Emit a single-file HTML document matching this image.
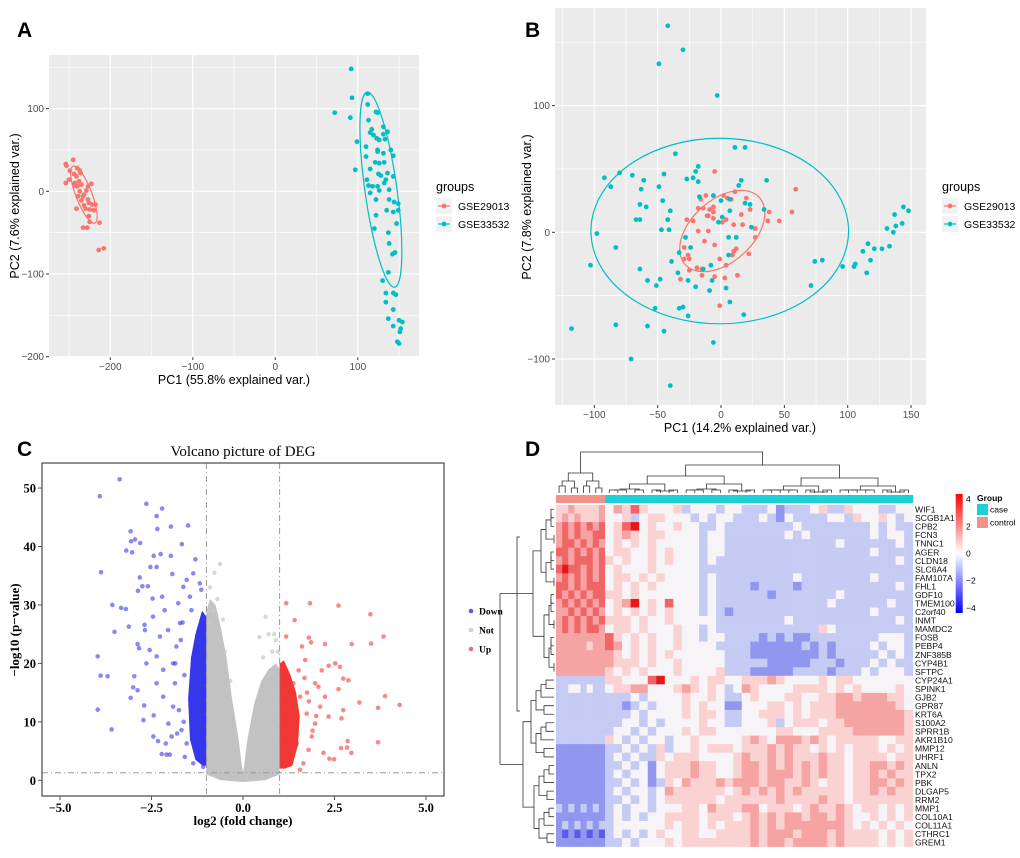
<!DOCTYPE html>
<html><head><meta charset="utf-8"><style>
html,body{margin:0;padding:0;background:#fff}
svg{display:block}
text{font-family:"Liberation Sans",sans-serif}
text.serif{font-family:"Liberation Serif",serif;font-weight:bold}
text.serifn{font-family:"Liberation Serif",serif;font-weight:normal}
</style></head><body>
<svg id="fig" xmlns="http://www.w3.org/2000/svg" width="1020" height="858" viewBox="0 0 1020 858">
<rect width="1020" height="858" fill="#fff"/>
<text x="17" y="37" font-size="21" font-weight="bold">A</text>
<text x="525" y="37" font-size="21" font-weight="bold">B</text>
<text x="17" y="456" font-size="21" font-weight="bold">C</text>
<text x="525" y="456" font-size="21" font-weight="bold">D</text>
<g id="gA"></g>
<g id="gB"></g>
<g id="gC"></g>
<g id="gD"></g>
</svg>
<script>
// ---------- Panel A data ----------
const aRedX=[-254,-253,-245,-249,-254,-250,-244,-240,-237,-241,-243,-238,-235,-240,-237,-223,-229,-232,-227,-235,-232,-226,-222,-218,-220,-225,-241,-230,-226,-225,-213,-233,-228,-214,-208,-236,-239,-233,-243,-227];
const aRedY=[33,31,38,25,10,14,21,28,25,18,10,12,8,6,0,9,1,-4,-10,-11,-17,-14,-16,-16,-23,-22,-21,-21,-30,-37,-38,-44,-44,-71,-69,22,-6,-6,7,6];
const aTealX=[92,93,72,91,112,112,122,124,113,115,117,119,126,131,131,133,99,110,123,136,110,124,131,140,143,97,115,121,126,132,125,128,136,143,111,113,118,132,126,138,122,138,144,149,149,135,143,122,120,147,137,138,142,145,137,130,134,143,146,134,143,137,150,154,152,143,151,148,150,124,124,134,115];
const aTealY=[148,113,95,89,118,105,96,95,86,71,75,68,62,78,69,63,60,54,64,72,42,48,46,50,43,26,27,35,34,35,21,19,22,18,14,7,6,10,1,2,-10,-10,-13,-15,-23,-23,-25,-29,-45,-39,-50,-63,-76,-74,-98,-108,-123,-123,-125,-134,-143,-154,-156,-158,-166,-163,-170,-182,-184,50,6,14,-2];
const aXTicks=[-200,-100,0,100];
const aYTicks=[100,0,-100,-200];
// ---------- Panel B data ----------
const bTealX=[-42,-30,-49,-3,11,19,-36,-92,-87,-80,-70,-61,-49,-45,-18,-20,-22,-27,-18,-63,-64,-59,-46,-40,-42,-41,-47,-67,-64,-98,-103,-83,-64,-58,-51,-48,-52,-33,-30,-26,-83,-58,-45,-118,-71,-40,-6,18,7,4,-9,-7,-20,-26,-34,-39,-33,-24,-28,-8,-14,6,6,12,24,14,16,36,34,23,19,7,1,-2,0,-6,-17,7,71,74,80,96,105,106,112,116,121,118,115,127,133,131,136,138,143,137,144,148];
const bTealY=[163,144,133,108,67,67,62,43,36,47,45,41,36,46,52,48,43,42,40,34,22,20,25,17,10,2,2,10,10,-1,-26,-12,-29,-38,-42,-37,-60,-60,-59,-66,-73,-74,-78,-76,-100,-121,-87,-65,-55,-44,-46,-38,-43,-38,-32,-23,-16,-12,-4,-26,-29,-18,-4,-4,4,37,41,41,18,22,23,17,12,8,25,29,28,26,-42,-23,-22,-27,-27,-25,-15,-9,-13,-22,-32,-13,-11,3,0,5,7,14,20,17];
const bRedX=[-5,59,11,20,2,5,8,-12,-16,-14,-18,-9,-6,-6,23,38,56,46,37,27,17,10,4,1,-6,-10,-11,-22,-27,-18,-10,16,27,-13,-5,-29,-29,-26,-25,-1,9,10,12,22,4,-19,-15,-25,-15,-5,3,13,-32,-1];
const bRedY=[48,34,32,27,29,27,26,29,26,19,19,18,16,20,18,16,16,9,9,3,6,6,10,8,11,13,13,9,10,1,1,14,-4,-7,-10,-12,-21,-18,-21,-21,-18,-15,-13,-17,-26,-28,-29,-30,-34,-35,-36,-34,-37,-58];
const bXTicks=[-100,-50,0,50,100,150];
const bYTicks=[100,0,-100];
// ---------- Panel C data ----------
const downX=[-3.37,-3.91,-2.64,-2.21,-2.36,-2.34,-1.97,-1.5,-3.07,-2.95,-3.06,-2.81,-1.67,-3.19,-3.03,-2.44,-2.25,-1.97,-1.3,-3.88,-2.53,-2.36,-1.93,-2.82,-2.87,-2.75,-2.6,-2.47,-2.21,-3.57,-3.33,-3.2,-3.12,-3.51,-2.69,-2.68,-2.88,-2.84,-3.97,-3.89,-3.7,-2.97,-3,-3.07,-2.88,-3.97,-3.59,-2.7,-2.72,-2.44,-2.45,-2.32,-2.22,-2.09,-2,-2.64,-2.55,-2.36,-2.27,-2.46,-2.14,-2.05,-2.18,-2.36,-2.18,-2.04,-1.91,-1.86,-1.91,-1.82,-1.72,-1.77,-1.63,-1.54,-1.45,-1.68,-1.54,-1.59,-1.36,-1.27,-1.09,-1.18,-1.36,-1.14,-1.41,-1.95,-2.11,-1.6,-1.75,-1.7,-1.65,-1.8,-1.62,-1.85];
const downY=[51.5,48.6,47.3,46.5,45.2,43,43.4,43.6,42.6,41.2,40.9,40.6,40.4,39.3,39,38.4,38.7,38.4,37.8,35.6,36.5,36.5,35.3,34.7,32.4,33.2,33.2,31.1,31.4,30,29.5,29.3,26.3,25.4,26.6,25.7,23.3,22.6,21.2,17.9,17.8,17.8,15.9,14.1,15.4,12.1,8.7,12.8,10.3,11.1,7.5,6.7,4.5,4.4,4.4,20,22.3,21.2,24.6,28,29.1,25.7,18.9,16.6,14.3,9.7,12.6,16.6,20,22.9,26.9,30.3,33.1,34.3,31.4,8.6,6.3,4,2.9,4.6,2.3,33.7,35.4,32.6,29.1,7.5,6.3,18,12,24,27,8,10,20];
const upX=[1.18,1.83,2.61,3.48,1.41,1.18,1.8,1.86,2.24,2.97,3.5,3.84,3.88,4.28,3.18,3.69,3.69,2.86,2.96,2.84,2.68,2.49,2.36,2.2,2.34,2.52,2.65,2.74,2.88,2.61,2.74,2.69,2.24,2.06,2.15,1.97,1.88,1.79,1.65,1.56,1.61,1.7,1.52,1.38,2.11,2.34,1.97,1.56,1.29,1.47,1.74,1.8,1.9,2.0,1.68,1.75];
const upY=[30.3,30.3,29.9,28.4,27.4,24.6,24.4,23.6,23.3,23.3,23.4,24.6,14.4,12.9,13.3,12.4,6.5,6.7,4.7,5.6,5.5,3.6,3.7,4.7,19.6,20,19.4,17.4,17.1,15.6,12,10.6,14.3,16,18.8,9.7,7.5,5.2,2.9,1.8,22.9,20.6,18.8,16.6,12.6,10.9,16.6,14.3,9.7,6.3,11.4,13.5,8.5,11,17.5,15];
const notX=[-0.63,-0.78,-0.9,-0.7,-0.55,-0.8,0.62,0.45,0.7,0.8,0.55,0.85,-0.5,-0.35,-0.95,-0.9,0.9,0.95];
const notY=[37,35.5,33,31,27.5,29,28,24.5,25,22,21,25,22,17,29,27,24,22];
const notEnvX=[-1,-0.9,-0.75,-0.6,-0.45,-0.3,-0.12,-0.03,0,0.03,0.12,0.3,0.5,0.7,0.9,1,1,0.6,0,-0.6,-1];
const notEnvY=[29,31,30,26,21,14,7,2.5,1.5,2.5,7,13,17,19,20,19,1,0,-0.3,0,1];
const downEnvX=[-1,-1,-1.12,-1.3,-1.42,-1.5,-1.45,-1.3,-1.1];
const downEnvY=[2.5,28,29,25,21,14,7,3.5,2.5];
const upEnvX=[1,1,1.12,1.3,1.45,1.55,1.5,1.35,1.15];
const upEnvY=[2,20,20.5,18,15,11,6,2.5,2];
const cXTicks=[-5,-2.5,0,2.5,5];
const cXLabels=["\u22125.0","\u22122.5","0.0","2.5","5.0"];
const cYTicks=[0,10,20,30,40,50];
// ---------- Panel D data ----------
const genes=["WIF1","SCGB1A1","CPB2","FCN3","TNNC1","AGER","CLDN18","SLC6A4","FAM107A","FHL1","GDF10","TMEM100","C2orf40","INMT","MAMDC2","FOSB","PEBP4","ZNF385B","CYP4B1","SFTPC","CYP24A1","SPINK1","GJB2","GPR87","KRT6A","S100A2","SPRR1B","AKR1B10","MMP12","UHRF1","ANLN","TPX2","PBK","DLGAP5","RRM2","MMP1","COL10A1","COL11A1","CTHRC1","GREM1"];
const heatRows=[
"55655556465754445344434433342333453354443344",
"56565556445345544434344333432433334435445434",
"67676767457845445443343333333343333333343433",
"67676677456545544443443333333434333333343443",
"67767676454545444443443333333333333433333343",
"77676767455445454443443333333333333333343333",
"67677767545445454443433333333333333333333343",
"78776767454445444443333333333333333333333333",
"67676767455454544443433333333343333333343333",
"77676777454545444443433332333323333333333343",
"76767677554544444443433333323333333433333333",
"67676767456845474443433333333333334333333433",
"66767676454545454443432333333333333333343333",
"67676767555454454444433333333433333333333343",
"67676776455454445443433333333333354333333333",
"66666666754545445443443333232322333333334443",
"66666566764545445444433332222223232333343443",
"66666666654545454444443332222222232333334343",
"66666666655545445444443333322222333233343433",
"66666666545454445444453332222233332333434443",
"33333333554447844454554455565444454554444444",
"33443433455664445654543465444455554545444454",
"33333333333434444544543345444554455665666554",
"33333333332343444545442244455454555666666654",
"33333333333434444545543344555454555666666665",
"33333333334434344445443344453455545566666665",
"33333333344343444545544444445544455556666665",
"33333333543434434454444456546665654555554455",
"22222222334343534454555455565655454545554545",
"22222222343433545554444565565655565545555455",
"22222222334342455565544566565656565545566565",
"22222222343442455565544566566656565545565655",
"22222222334342354655565666566556545545566565",
"22222222343443465555554565656565555545565655",
"22222222334343455555545555556555565545555555",
"32323232343443444554655566455545655654554545",
"22222222343434455554555456565665665654454545",
"23232323344444454554545556565666666654545454",
"21212121343434544554455556566656665655554545",
"22222222334344454555555556566566665655554545"];
const nControl=8;
const scaleTicks=[4,2,0,-2,-4];

const NS="http://www.w3.org/2000/svg";
function mk(tag,attrs,parent,txt){const e=document.createElementNS(NS,tag);for(const k in attrs)e.setAttribute(k,attrs[k]);if(txt!==undefined)e.textContent=txt;parent.appendChild(e);return e;}

function pcaPanel(g,cfg){
  const X=cfg.sx,Y=cfg.sy;
  const bg=mk('rect',{x:cfg.l,y:cfg.t,width:cfg.r-cfg.l,height:cfg.b-cfg.t,fill:'#ebebeb'},g);
  
  
  cfg.minX.forEach(v=>{const l=mk('line',{x1:X(v),x2:X(v),y1:cfg.t,y2:cfg.b,stroke:'#fff','stroke-width':0.6},g);
    
    });
  cfg.minY.forEach(v=>{const l=mk('line',{x1:cfg.l,x2:cfg.r,y1:Y(v),y2:Y(v),stroke:'#fff','stroke-width':0.6},g);
    
    });
  cfg.xt.forEach(v=>{const l=mk('line',{x1:X(v),x2:X(v),y1:cfg.t,y2:cfg.b,stroke:'#fff','stroke-width':1.2},g);
    
    
    const tk=mk('line',{x1:X(v),x2:X(v),y1:cfg.b,y2:cfg.b+3,stroke:'#333','stroke-width':1},g);
    
    
    const t=mk('text',{x:X(v),y:cfg.b+13,'font-size':10,fill:'#4d4d4d','text-anchor':'middle'},g,v<0?'\u2212'+(-v):String(v));
    
    });
  cfg.yt.forEach(v=>{const l=mk('line',{x1:cfg.l,x2:cfg.r,y1:Y(v),y2:Y(v),stroke:'#fff','stroke-width':1.2},g);
    
    
    const tk=mk('line',{x1:cfg.l-3,x2:cfg.l,y1:Y(v),y2:Y(v),stroke:'#333','stroke-width':1},g);
    
    
    const t=mk('text',{x:cfg.l-5,y:Y(v)+3.5,'font-size':10,fill:'#4d4d4d','text-anchor':'end'},g,v<0?'\u2212'+(-v):String(v));
    
    });
  cfg.ell.forEach(e=>{const el=mk('ellipse',{cx:X(e.cx),cy:Y(e.cy),rx:e.rx,ry:e.ry,fill:'none',stroke:e.c,'stroke-width':1.2,transform:`rotate(${e.rot} ${X(e.cx)} ${Y(e.cy)})`},g);
    
    });
  cfg.series.forEach(s=>{s.x.forEach((v,i)=>{const c=mk('circle',{cx:X(v),cy:Y(s.y[i]),r:2.4,fill:s.c},g);
    
    });});
  const xt=mk('text',{x:cfg.xtx,y:cfg.b+27,'font-size':12.5,'text-anchor':'middle',fill:'#000'},g,cfg.xtitle);
  
  
  const yt=mk('text',{x:0,y:0,'font-size':12.5,'text-anchor':'middle',fill:'#000',transform:`translate(${cfg.ytx},${cfg.yty}) rotate(-90)`},g,cfg.ytitle);
  
  
  const lg=mk('g',{},g);
  
  
  const lt=mk('text',{x:cfg.lx,y:191,'font-size':12.5},lg,'groups');
  
  
  cfg.series.forEach((s,i)=>{const yy=206+i*18;
    const k=mk('rect',{x:cfg.lx,y:yy-8,width:16,height:16,fill:'#f2f2f2'},lg);
    
    
    const kl=mk('line',{x1:cfg.lx+2,x2:cfg.lx+14,y1:yy,y2:yy,stroke:s.c,'stroke-width':1.2},lg);
    
    
    const kc=mk('circle',{cx:cfg.lx+8,cy:yy,r:2.4,fill:s.c},lg);
    
    
    const tx=mk('text',{x:cfg.lx+22,y:yy+4,'font-size':10.5},lg,s.n);
    
    });
}
const RED='#F8766D',TEAL='#00BFC4';
pcaPanel(document.getElementById('gA'),{
  l:49,r:419,t:55,b:357,sx:x=>275.3+0.825*x,sy:y=>191.3-0.827*y,
  xt:aXTicks,yt:aYTicks,minX:[-250,-150,-50,50,150],minY:[150,50,-50,-150],
  ell:[{cx:-232,cy:-4,rx:8,ry:30.5,rot:-21,c:RED},{cx:128,cy:2,rx:16,ry:98.5,rot:-8,c:TEAL}],
  series:[{n:'GSE29013',x:aRedX,y:aRedY,c:RED},{n:'GSE33532',x:aTealX,y:aTealY,c:TEAL}],
  xtitle:'PC1 (55.8% explained var.)',xtx:234,ytitle:'PC2 (7.6% explained var.)',ytx:19,yty:206,lx:436});
pcaPanel(document.getElementById('gB'),{
  l:555,r:926,t:8,b:405,sx:x=>721+1.267*x,sy:y=>232.3-1.267*y,
  xt:bXTicks,yt:bYTicks,minX:[-125,-75,-25,25,75,125],minY:[150,50,-50],
  ell:[{cx:-1,cy:1,rx:128.8,ry:92.8,rot:0,c:TEAL},{cx:1,cy:1,rx:50,ry:31,rot:-42,c:RED}],
  series:[{n:'GSE29013',x:bRedX,y:bRedY,c:RED},{n:'GSE33532',x:bTealX,y:bTealY,c:TEAL}],
  xtitle:'PC1 (14.2% explained var.)',xtx:740,ytitle:'PC2 (7.8% explained var.)',ytx:531,yty:207,lx:942});

// ================= Panel C volcano =================
(function(){
  const g=document.getElementById('gC');
  const X=x=>243+36.6*x, Y=y=>780.3-5.845*y;
  const L=42,R=444,T=463,B=796;
  const title=mk('text',{x:243,y:456,'font-size':15,'text-anchor':'middle',class:'serifn'},g,'Volcano picture of DEG');
  
  
  function poly(xs,ys,fill,name,op){const p=mk('polygon',{points:xs.map((v,i)=>X(v)+','+Y(ys[i])).join(' '),fill:fill,'fill-opacity':op},g);
    
    }
  poly(notEnvX,notEnvY,'#c2c2c2','not-significant-density',1);
  notX.forEach((v,i)=>{const c=mk('circle',{cx:X(v),cy:Y(notY[i]),r:2.2,fill:'#c8c8c8','fill-opacity':0.7},g);
    
    });
  poly(downEnvX,downEnvY,'#2020e8','down-density',0.9);
  poly(upEnvX,upEnvY,'#f02020','up-density',0.9);
  downX.forEach((v,i)=>{const c=mk('circle',{cx:X(v),cy:Y(downY[i]),r:2.3,fill:'#3a3af0','fill-opacity':0.6},g);
    
    });
  upX.forEach((v,i)=>{const c=mk('circle',{cx:X(v),cy:Y(upY[i]),r:2.3,fill:'#f03a3a','fill-opacity':0.6},g);
    
    });
  [-1,1].forEach(v=>{const l=mk('line',{x1:X(v),x2:X(v),y1:T,y2:B,stroke:'#999','stroke-width':1,'stroke-dasharray':'6,3,1,3'},g);
    
    });
  const h=mk('line',{x1:L,x2:R,y1:Y(1.3),y2:Y(1.3),stroke:'#999','stroke-width':1,'stroke-dasharray':'6,3,1,3'},g);
  
  
  const box=mk('rect',{x:L,y:T,width:R-L,height:B-T,fill:'none',stroke:'#555','stroke-width':1.3},g);
  
  
  cXTicks.forEach((v,i)=>{const tk=mk('line',{x1:X(v),x2:X(v),y1:B,y2:B+4,stroke:'#555'},g);
    
    
    const t=mk('text',{x:X(v),y:B+16,'font-size':12.5,'text-anchor':'middle',class:'serif'},g,cXLabels[i]);
    
    });
  cYTicks.forEach(v=>{const tk=mk('line',{x1:L-4,x2:L,y1:Y(v),y2:Y(v),stroke:'#555'},g);
    
    
    const t=mk('text',{x:L-6,y:Y(v)+4.5,'font-size':12.5,'text-anchor':'end',class:'serif'},g,String(v));
    
    });
  const xt=mk('text',{x:243,y:825,'font-size':13,'text-anchor':'middle',class:'serif'},g,'log2 (fold change)');
  
  
  const yt=mk('text',{x:0,y:0,'font-size':13,'text-anchor':'middle',class:'serif',transform:'translate(19,630) rotate(-90)'},g,'\u2212log10 (p\u2212value)');
  
  
  const leg=[['Down','#5a5af0',611],['Not','#d0d0d0',630],['Up','#f07070',649]];
  leg.forEach(e=>{const c=mk('circle',{cx:471,cy:e[2],r:2.3,fill:e[1]},g);
    
    
    const t=mk('text',{x:479,y:e[2]+3.5,'font-size':9.5,class:'serif'},g,e[0]);
    
    });
  const br=mk('path',{d:'M520,537 L517,537 L517,711 L520,711',fill:'none',stroke:'#555','stroke-width':1},g);
  
  
})();

// ================= Panel D heatmap =================
(function(){
  const g=document.getElementById('gD');
  const x0=556,xc=605,x1=912.7,y0=505,rowH=8.54;
  const nCol=heatRows[0].length,nCase=nCol-nControl;
  const colX=j=>j<nControl?x0+j*(xc-x0)/nControl:xc+(j-nControl)*(x1-xc)/nCase;
  const colW=j=>j<nControl?(xc-x0)/nControl:(x1-xc)/nCase;
  const palette=['#1818e0','#5a5ce8','#9197ee','#c6cbf4','#f7f4f8','#fad2d2','#f5a3a3','#f06666','#e81818'];
  heatRows.forEach((row,i)=>{for(let j=0;j<nCol;j++){
    const c=mk('rect',{x:colX(j).toFixed(2),y:(y0+i*rowH).toFixed(2),width:(colW(j)+0.3).toFixed(2),height:(rowH+0.3).toFixed(2),fill:palette[+row[j]]},g);
    
    }
    const t=mk('text',{x:915,y:y0+i*rowH+rowH/2+3.3,'font-size':8.6,fill:'#111'},g,genes[i]);
    
    });
  for(let j=0;j<nCol;j++){const a=mk('rect',{x:colX(j),y:495,width:colW(j)+0.3,height:8,fill:j<nControl?'#F4928A':'#1CD1D6'},g);
    
    }
  const dc=mk('g',{fill:'none',stroke:'#333','stroke-width':0.8},g);
  
  
  function colTree(lo,hi,top,depth){
    if(lo===hi)return [colX(lo)+colW(lo)/2,493];
    const mid=Math.floor((lo+hi)/2);
    const childTop=Math.min(490,top+(depth<2?11:depth<3?8:5));
    const a=colTree(lo,mid,childTop,depth+1),b=colTree(mid+1,hi,childTop+(depth%2?2:0),depth+1);
    mk('path',{d:`M${a[0]},${a[1]} V${top} H${b[0]} V${b[1]}`},dc);
    return [(a[0]+b[0])/2,top];}
  const cL=colTree(0,nControl-1,473,2),cR=colTree(nControl,nCol-1,465,1);
  mk('path',{d:`M${cL[0]},${cL[1]} V452 H${cR[0]} V${cR[1]}`},dc);
  const dr=mk('g',{fill:'none',stroke:'#333','stroke-width':0.8},g);
  
  
  function rowTree(lo,hi,left,depth){
    if(lo===hi)return [554,y0+lo*rowH+rowH/2];
    const mid=Math.floor((lo+hi)/2);
    const cl=Math.min(551,left+(depth<2?8:5));
    const a=rowTree(lo,mid,cl,depth+1),b=rowTree(mid+1,hi,cl+(depth%2?3:0),depth+1);
    mk('path',{d:`M${a[0]},${a[1]} H${left} V${b[1]} H${b[0]}`},dr);
    return [left,(a[1]+b[1])/2];}
  const rT=rowTree(0,19,533,1),rB=rowTree(20,39,523,1);
  mk('path',{d:`M${rT[0]},${rT[1]} H500 V${rB[1]} H${rB[0]}`},dr);
  const defs=mk('defs',{},g);
  const lgd=mk('linearGradient',{id:'hmgrad',x1:0,y1:1,x2:0,y2:0},defs);
  mk('stop',{offset:'0','stop-color':'#0000ff'},lgd);
  mk('stop',{offset:'0.5','stop-color':'#ffffff'},lgd);
  mk('stop',{offset:'1','stop-color':'#ff0000'},lgd);
  const cb=mk('rect',{x:955.7,y:494,width:7,height:119,fill:'url(#hmgrad)'},g);
  
  
  scaleTicks.forEach(v=>{const yy=553.5-v*13.6;
    const t=mk('text',{x:966,y:yy+3,'font-size':8.5},g,v<0?'\u2212'+(-v):String(v));
    
    });
  const gt=mk('text',{x:977,y:501,'font-size':8.5,'font-weight':'bold'},g,'Group');
  
  
  [['case','#1CD1D6',504],['control','#F4928A',517]].forEach(e=>{
    const r=mk('rect',{x:977,y:e[2],width:11,height:11,fill:e[1]},g);
    
    
    const t=mk('text',{x:990,y:e[2]+8.5,'font-size':8.5},g,e[0]);
    
    });
})();
</script>
</body></html>
